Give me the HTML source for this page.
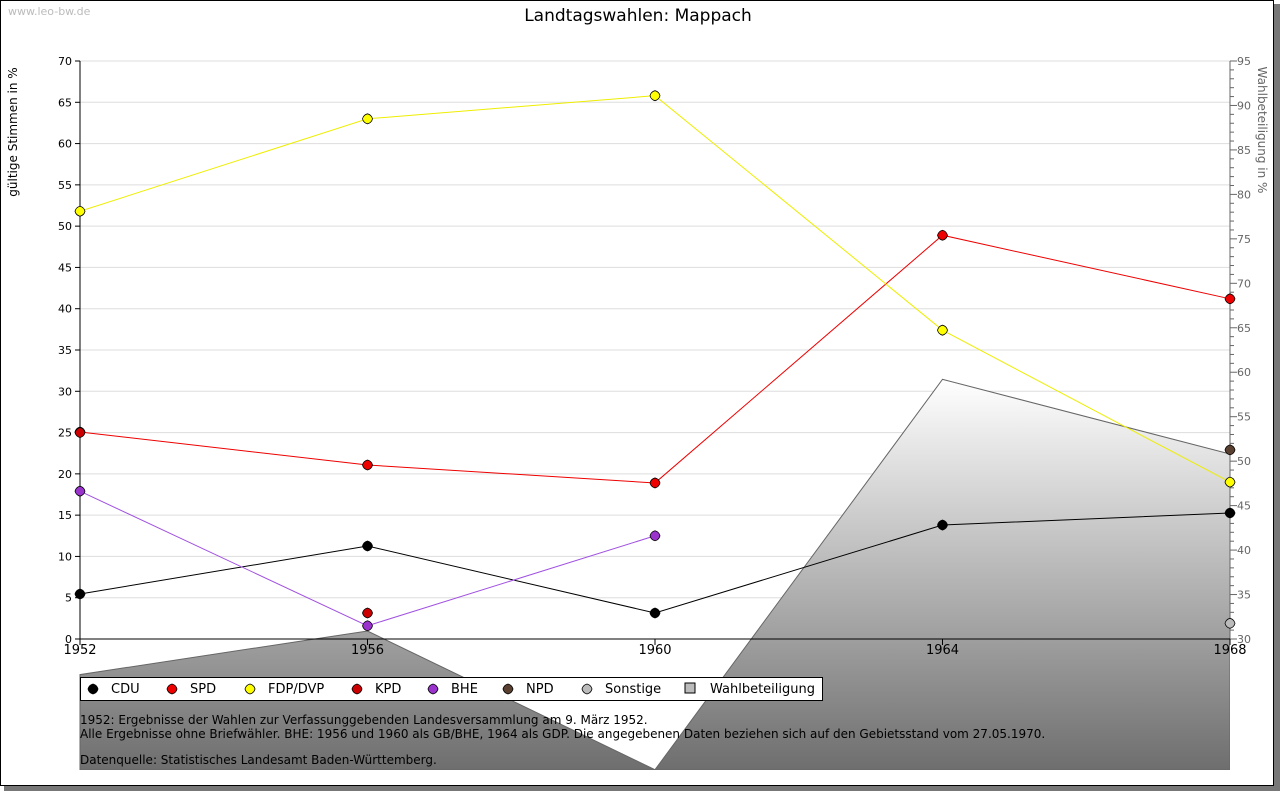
<!DOCTYPE html>
<html><head><meta charset="utf-8"><style>
body{margin:0;background:#fff;font-family:"DejaVu Sans",sans-serif;}
svg text{font-family:"DejaVu Sans",sans-serif;}
</style></head><body>
<svg width="1280" height="791" xmlns="http://www.w3.org/2000/svg">
<defs>
<linearGradient id="g" gradientUnits="userSpaceOnUse" x1="0" y1="379" x2="0" y2="770">
<stop offset="0" stop-color="#ffffff"/><stop offset="1" stop-color="#6e6e6e"/></linearGradient>
<clipPath id="clip"><rect x="0" y="0" width="1230" height="770"/></clipPath>
</defs>
<rect x="4" y="4" width="1276" height="787" fill="#777"/>
<rect x="0.5" y="0.5" width="1273" height="785" fill="#fff" stroke="#000"/>
<text x="8" y="15" font-size="11" fill="#bbb">www.leo-bw.de</text>
<text x="638" y="21" font-size="17" text-anchor="middle">Landtagswahlen: Mappach</text>
<g id="grid"></g>
<g id="area" clip-path="url(#clip)"></g>
<g id="axes"></g>
<g id="lines"></g>
<g id="legend"></g>
<text x="17" y="132" font-size="12" transform="rotate(-90 17 132)" text-anchor="middle">gültige Stimmen in %</text>
<text x="1258" y="130" font-size="12" fill="#666" transform="rotate(90 1258 130)" text-anchor="middle">Wahlbeteiligung in %</text>
<g font-size="12">
<text x="80" y="724">1952: Ergebnisse der Wahlen zur Verfassunggebenden Landesversammlung am 9. März 1952.</text>
<text x="80" y="738">Alle Ergebnisse ohne Briefwähler. BHE: 1956 und 1960 als GB/BHE, 1964 als GDP. Die angegebenen Daten beziehen sich auf den Gebietsstand vom 27.05.1970.</text>
<text x="80" y="764">Datenquelle: Statistisches Landesamt Baden-Württemberg.</text>
</g>
</svg>
<script>
const years=[1952,1956,1960,1964,1968];
const leftTicks=[0,5,10,15,20,25,30,35,40,45,50,55,60,65,70];
const rightTicks=[30,35,40,45,50,55,60,65,70,75,80,85,90,95];
const cdu=[5.45,11.26,3.15,13.8,15.26];
const spd=[25.07,21.07,18.9,48.9,41.2];
const fdp=[51.8,63.0,65.8,37.4,19.0];
const kpd=[25.0,3.15,null,null,null];
const bhe=[17.9,1.6,12.5,null,null];
const npd=[null,null,null,null,22.9];
const sonstige=[null,null,null,null,1.9];
const turnout=[26.0,30.9,15.3,59.2,50.8];
const NS="http://www.w3.org/2000/svg";
const X=y=>80+(y-1952)*(1150/16);
const YL=v=>639-v*(578/70);
const YR=v=>639-(v-30)*(578/65);
function el(tag,attrs,parent){const e=document.createElementNS(NS,tag);for(const k in attrs)e.setAttribute(k,attrs[k]);document.getElementById(parent).appendChild(e);return e;}
leftTicks.forEach(t=>{
 if(t>0){const l=el('line',{x1:80,x2:1230,y1:YL(t),y2:YL(t),stroke:'#ddd'},'grid');
 
 }
 el('line',{x1:75,x2:80,y1:YL(t),y2:YL(t),stroke:'#000'},'axes');
 const tx=el('text',{x:72,y:YL(t)+4,'font-size':11,'text-anchor':'end'},'axes');tx.textContent=t;
 
 
});
for(let v=30;v<=95;v++){el('line',{x1:1230,x2:v%5?1234:1237,y1:YR(v),y2:YR(v),stroke:'#666'},'axes');}
rightTicks.forEach(t=>{const tx=el('text',{x:1237,y:YR(t)+4,'font-size':11,fill:'#666'},'axes');tx.textContent=t;
 
 });
let pts=years.map((y,i)=>X(y)+','+YR(turnout[i])).join(' ');
const ar=el('polygon',{points:'80,770 '+pts+' 1230,770',fill:'url(#g)',stroke:'#666'},'area');


el('line',{x1:80,x2:80,y1:61,y2:639,stroke:'#000'},'axes');
el('line',{x1:1230,x2:1230,y1:61,y2:639,stroke:'#666'},'axes');
el('line',{x1:80,x2:1230,y1:639,y2:639,stroke:'#000'},'axes');
years.forEach(y=>{el('line',{x1:X(y),x2:X(y),y1:639,y2:645,stroke:'#000'},'axes');
 const tx=el('text',{x:X(y),y:654,'font-size':13,'text-anchor':'middle'},'axes');tx.textContent=y;
 
 });
function marker(x,y,color,parent){return el('path',{d:`M${x},${y-5} Q${x+4},${y-4} ${x+5},${y} Q${x+4},${y+4} ${x},${y+5} Q${x-4},${y+4} ${x-5},${y} Q${x-4},${y-4} ${x},${y-5}Z`,fill:color,stroke:'#000','stroke-width':0.8},parent);}
function series(data,color,line,name){
 let segs=[],cur=[];
 data.forEach((v,i)=>{if(v==null){if(cur.length)segs.push(cur);cur=[];}else cur.push([X(years[i]),YL(v)]);});
 if(cur.length)segs.push(cur);
 if(line)segs.forEach(s=>{if(s.length>1){const p=el('polyline',{points:s.map(q=>q.join(',')).join(' '),fill:'none',stroke:line},'lines');
 
 }});
 data.forEach((v,i)=>{if(v==null)return;
 const m=marker(X(years[i]),YL(v),color,'lines');
 
 });
}
series(cdu,'#000','#000','cdu');
series(spd,'#e00','#e00','spd');
series(fdp,'#ff0','#ee0','fdp');
series(bhe,'#9933cc','#a050e0','bhe');
series(kpd,'#c00',null,'kpd');
series(npd,'#5a4030',null,'npd');
series(sonstige,'#bbb',null,'sonstige');
const lb=el('rect',{x:80.5,y:677.5,width:742,height:23,fill:'#fff',stroke:'#000'},'legend');


const legendItems=[['CDU','#000',93],['SPD','#e00',172],['FDP/DVP','#ff0',250],['KPD','#c00',357],['BHE','#9933cc',433],['NPD','#5a4030',508],['Sonstige','#bbb',587]];
legendItems.forEach(([n,c,x])=>{
 const m=marker(x,689,c,'legend');
 
 
 const t=el('text',{x:x+18,y:693,'font-size':13},'legend');t.textContent=n;
 
 });
el('rect',{x:685,y:683,width:10,height:10,fill:'#bbb',stroke:'#000'},'legend');
const wt=el('text',{x:710,y:693,'font-size':13},'legend');wt.textContent='Wahlbeteiligung';


</script>
</body></html>
